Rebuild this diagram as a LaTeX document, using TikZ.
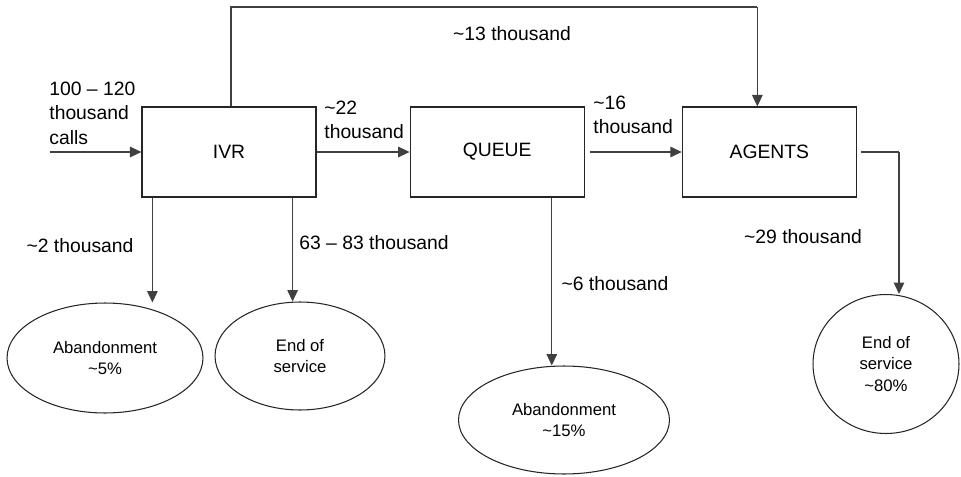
\documentclass[tikz,border=0pt]{standalone}
\usepackage{fontspec}
\setmainfont{Liberation Sans}
\usetikzlibrary{arrows.meta,positioning,shapes.geometric}

\begin{document}
\begin{tikzpicture}[x=0.02cm,y=-0.02cm,->,>={Triangle[length=6.5pt,width=6pt]},
                    line width=0.6pt,draw=black!75]
      \tikzstyle{stage}=[draw=black!85,line width=0.7pt,rectangle,minimum width=3.48cm,
                         minimum height=1.8cm,inner sep=0pt,font=\fontsize{11}{13}\selectfont]
      \tikzstyle{outcome}=[draw=black!85,line width=0.6pt,ellipse,inner sep=0pt,align=center,
                           font=\fontsize{9.5}{12.2}\selectfont]
      \tikzstyle{flow}=[align=left,font=\fontsize{11}{13.9}\selectfont]

      \useasboundingbox (0,0) rectangle (961,477);

      \node[stage]   (ivr)    at (229,152)          {IVR};
      \node[stage]   (queue)  [right=1.86cm of ivr]   {QUEUE};
      \node[stage]   (agents) [right=1.94cm of queue] {AGENTS};

      \node[outcome,minimum width=3.92cm,minimum height=2.2cm]   (aband1) at (105,358) {Abandonment\\\textasciitilde5\%};
      \node[outcome,minimum width=3.4cm,minimum height=2.16cm]   (served1) at (300,356) {End of\\service};
      \node[outcome,minimum width=4.22cm,minimum height=2.16cm]  (aband2) at (564,420) {Abandonment\\\textasciitilde15\%};
      \node[outcome,minimum width=2.92cm,minimum height=2.78cm]  (served2) at (886,364) {End of\\service\\\textasciitilde80\%};

      \coordinate (callsin) at (50,152);
      \coordinate (toprail) at (231,7);

      % flows between the stages
      \draw (callsin) -- (ivr);
      \draw (ivr) -- (queue);
      \draw[shorten <=3pt] (queue) -- (agents);
      \draw[-] ([xshift=0.04cm]ivr.north) -- ([xshift=0.04cm]ivr.north |- toprail)
            -- ([xshift=-0.24cm]agents.north |- toprail);
      \draw ([xshift=-0.24cm]agents.north |- toprail) -- ([xshift=-0.24cm]agents.north);

      % flows to the outcomes
      \draw ([xshift=0.22cm]ivr.south west) -- ([xshift=0.22cm]ivr.south west |- aband1.north);
      \draw ([xshift=-0.48cm]ivr.south east) -- ([xshift=-0.48cm]ivr.south east |- served1.north);
      \draw ([xshift=-0.66cm]queue.south east) -- ([xshift=-0.66cm]queue.south east |- aband2.north);
      \draw[-] ([xshift=0.08cm]agents.east) -- ([xshift=0.26cm]agents.east -| served2.north);
      \draw ([xshift=0.26cm]agents.east -| served2.north) -- ([xshift=0.26cm]served2.north);

      % flow sizes
      \node[flow,anchor=west] (callslbl) at (43,113) {100 -- 120\\thousand\\calls};
      \node[flow,anchor=west] (lbl22) at (318,120) {\textasciitilde22\\thousand};
      \node[flow,anchor=west] (lbl16) at (587,115) {\textasciitilde16\\thousand};
      \node[flow] (lbl13) at (512,34)  {\textasciitilde13 thousand};
      \node[flow] (lbl2)  at (80,246)  {\textasciitilde2 thousand};
      \node[flow] (lbl63) at (374,243) {63 -- 83 thousand};
      \node[flow] (lbl6)  at (615,284) {\textasciitilde6 thousand};
      \node[flow] (lbl29) at (803,237) {\textasciitilde29 thousand};

    \end{tikzpicture}
\end{document}
